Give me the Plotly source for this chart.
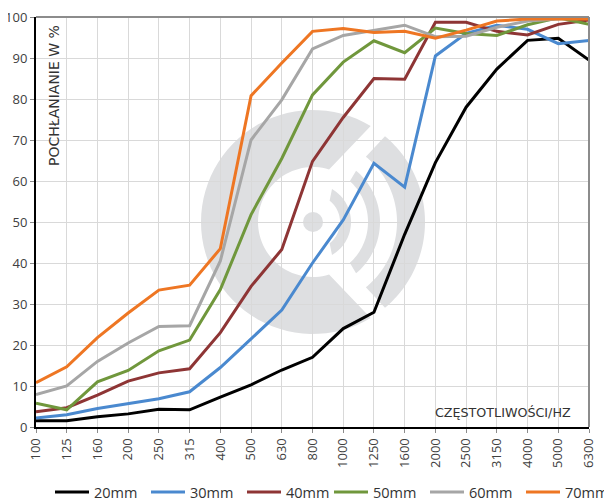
import math
import plotly.graph_objects as go

freqs = ["100", "125", "160", "200", "250", "315", "400", "500", "630", "800",
         "1000", "1250", "1600", "2000", "2500", "3150", "4000", "5000", "6300"]

s20 = [1.5, 1.5, 2.5, 3.2, 4.3, 4.2, 7.3, 10.3, 13.9, 17.0, 24.0, 28.0, 47.0, 64.5, 78.0, 87.3, 94.3, 94.8, 89.5]
s30 = [2.2, 3.0, 4.5, 5.7, 6.9, 8.6, 14.5, 21.5, 28.5, 40.0, 50.5, 64.3, 58.5, 90.5, 96.0, 98.0, 97.0, 93.5, 94.3]
s40 = [3.7, 4.7, 7.8, 11.2, 13.2, 14.2, 23.0, 34.3, 43.3, 64.8, 75.5, 85.0, 84.8, 98.7, 98.7, 96.5, 95.6, 98.2, 99.3]
s50 = [5.8, 4.2, 11.0, 13.8, 18.6, 21.2, 33.5, 51.8, 65.5, 81.0, 89.0, 94.2, 91.3, 97.3, 96.0, 95.5, 98.1, 99.8, 98.2]
s60 = [7.9, 10.0, 16.0, 20.5, 24.5, 24.7, 40.5, 70.0, 79.8, 92.2, 95.5, 96.8, 98.0, 95.2, 95.3, 97.5, 99.0, 99.5, 99.8]
s70 = [10.8, 14.7, 21.8, 27.8, 33.4, 34.6, 43.5, 80.8, 88.8, 96.5, 97.2, 96.2, 96.5, 94.8, 96.8, 99.0, 99.5, 99.5, 99.5]

names = ["20mm", "30mm", "40mm", "50mm", "60mm", "70mm"]
colors = ["#000000", "#4A89CF", "#8E3535", "#70973C", "#A6A6A6", "#EE7623"]
series = [s20, s30, s40, s50, s60, s70]

# page has an 8px body margin: figure placed at (8, 8)
OFF = 8
W, H = 612 - OFF, 502 - OFF
ML, MR, MT, MB = 36 - OFF, 612 - 589, 17 - OFF, 502 - 427
PW, PH = W - ML - MR, H - MT - MB

fig = go.Figure()
for i, (n, c, s) in enumerate(zip(names, colors, series)):
    fig.add_trace(go.Scatter(x=freqs, y=s, name=n, mode="lines",
                             line=dict(color=c, width=3),
                             legend="legend" if i < 3 else "legend2"))

# watermark logo (page pixel geometry -> paper coords)
CX, CY = 313, 222
def P(px, py):
    return (px - 36) / PW, (427 - py) / PH

def pt(r, deg):
    a = math.radians(deg)
    return P(CX + r * math.cos(a), CY - r * math.sin(a))

def ring_path(r1, r2, a_out0, a_out1, a_in0, a_in1, n=60):
    pts = []
    for i in range(n + 1):
        pts.append(pt(r2, a_out0 + (a_out1 - a_out0) * i / n))
    for i in range(n + 1):
        pts.append(pt(r1, a_in1 + (a_in0 - a_in1) * i / n))
    return "M " + " L ".join(f"{x:.5f},{y:.5f}" for x, y in pts) + " Z"

wm = "#DEDFE1"
shapes = []
for path in [ring_path(55, 112, 59, 301, 73, 287),
             ring_path(27, 38, -60, 60, -52, 52),
             ring_path(55, 67, -50, 50, -48, 48),
             ring_path(84, 112, -50, 50, -51, 51)]:
    shapes.append(dict(type="path", path=path, xref="paper", yref="paper",
                       fillcolor=wm, line=dict(width=0), layer="below"))
x0, y0 = P(CX - 10, CY + 10)
x1, y1 = P(CX + 10, CY - 10)
shapes.append(dict(type="circle", xref="paper", yref="paper", x0=x0, y0=y0, x1=x1, y1=y1,
                   fillcolor=wm, line=dict(width=0), layer="below"))
# top and right border
shapes.append(dict(type="line", xref="paper", yref="paper", x0=0, x1=1, y0=1, y1=1,
                   line=dict(color="#8C8C8C", width=2)))
shapes.append(dict(type="line", xref="paper", yref="paper", x0=1, x1=1, y0=0, y1=1,
                   line=dict(color="#8C8C8C", width=2)))

leg_common = dict(orientation="h", xref="container", yref="container",
                  y=(502 - 492) / H, xanchor="left", yanchor="middle",
                  entrywidth=47, itemwidth=34, bgcolor="rgba(0,0,0,0)",
                  font=dict(size=14.5, color="#333333", family="Open Sans"))

fig.update_layout(
    width=W, height=H,
    margin=dict(l=ML, r=MR, t=MT, b=MB, autoexpand=False),
    paper_bgcolor="white", plot_bgcolor="white",
    shapes=shapes,
    font=dict(family="Open Sans", color="#404040"),
    xaxis=dict(type="category", range=[0, 18], showgrid=True, gridcolor="#D9D9D9",
               gridwidth=1, showline=True, linecolor="#000000", linewidth=2,
               ticks="outside", ticklen=4, tickcolor="#8C8C8C", tickangle=-90,
               tickfont=dict(size=13, color="#404040"), zeroline=False, automargin=False,
               ticklabeloverflow="allow"),
    yaxis=dict(range=[0, 100], dtick=10, showgrid=True, gridcolor="#D9D9D9", gridwidth=1,
               showline=True, linecolor="#000000", linewidth=2,
               ticks="outside", ticklen=4, tickcolor="#8C8C8C",
               tickfont=dict(size=13, color="#404040"), zeroline=False, automargin=False,
               ticklabeloverflow="allow"),
    legend=dict(x=(50 - OFF) / W, **leg_common),
    legend2=dict(x=(329 - OFF) / W, **leg_common),
    annotations=[
        dict(text="POCHŁANIANIE W %", xref="paper", yref="paper",
             x=(53.5 - 36) / PW, y=(427 - 23) / PH, xanchor="center", yanchor="top",
             textangle=-90, showarrow=False,
             font=dict(size=14, color="#333333", family="DejaVu Sans")),
        dict(text="CZĘSTOTLIWOŚCI/HZ", xref="paper", yref="paper",
             x=(573 - 36) / PW, y=(427 - 412) / PH, xanchor="right", yanchor="middle",
             showarrow=False,
             font=dict(size=12.7, color="#333333", family="DejaVu Sans")),
    ],
)

fig.write_html("out.html")
